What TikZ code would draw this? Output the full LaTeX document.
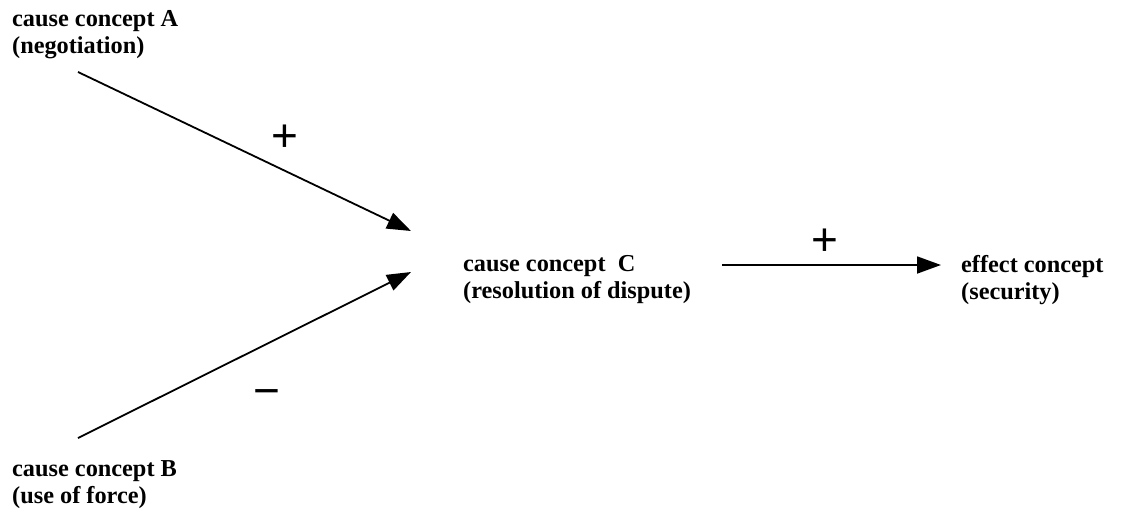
\documentclass[tikz,border=0pt]{standalone}
\usepackage{fontspec}
\setmainfont{Liberation Serif}
\newfontfamily\signfont{Liberation Sans}
\usetikzlibrary{arrows.meta}
\tikzset{
  lbl/.style={anchor=north west, inner sep=0pt, align=left,
    font=\fontsize{24.3}{27}\selectfont\bfseries},
  sign/.style={inner sep=0pt, font=\fontsize{46}{48}\selectfont\signfont},
  conn/.style={line width=1.8pt, -{Triangle[length=24pt,width=17pt]}}
}
\begin{document}
\begin{tikzpicture}[x=1pt,y=-1pt]
\useasboundingbox (0,0) rectangle (1136,512);
\node[lbl] (A) at (12,10) {cause concept A\\(negotiation)};
\node[lbl] (B) at (12,460) {cause concept B\\(use of force)};
\node[lbl] (C) at (463,255) {cause concept\ \ C\\(resolution of dispute)};
\node[lbl] (E) at (961,255) {effect concept\\(security)};
\coordinate (a0) at (78,72);
\coordinate (a1) at (411,231);
\coordinate (b0) at (78,438);
\coordinate (b1) at (411,272);
\coordinate (c0) at (722,265);
\coordinate (c1) at (941,265);
\draw[conn] (a0) -- (a1);
\draw[conn] (b0) -- (b1);
\draw[conn] (c0) -- (c1);
\node[sign] (p1) at (285,138) {+};
\node[sign] (p2) at (825,242) {+};
\node[sign] (m1) at (267,398) {\char"2212};
\end{tikzpicture}
\end{document}
